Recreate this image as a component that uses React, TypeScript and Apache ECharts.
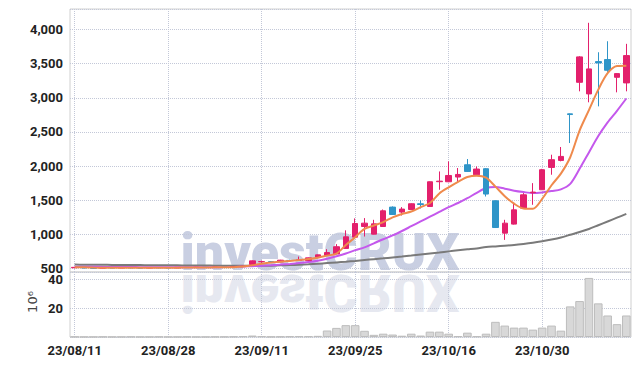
import React, { useEffect, useRef } from "react";
import * as echarts from "echarts";

const dates = [
  "23/08/11","23/08/14","23/08/16","23/08/17","23/08/18","23/08/21","23/08/22","23/08/23","23/08/24","23/08/25",
  "23/08/28","23/08/29","23/08/30","23/08/31","23/09/01","23/09/04","23/09/05","23/09/06","23/09/07","23/09/08",
  "23/09/11","23/09/12","23/09/13","23/09/14","23/09/15","23/09/18","23/09/19","23/09/20","23/09/21","23/09/22",
  "23/09/25","23/09/26","23/09/27","23/10/04","23/10/05","23/10/06","23/10/10","23/10/11","23/10/12","23/10/13",
  "23/10/16","23/10/17","23/10/18","23/10/19","23/10/20","23/10/23","23/10/24","23/10/25","23/10/26","23/10/27",
  "23/10/30","23/10/31","23/11/01","23/11/02","23/11/03","23/11/06","23/11/07","23/11/08","23/11/09","23/11/10",
];

const openP = [512,518,508,505,512,509,514,510,508,515,512,510,518,515,520,516,522,520,528,560,600,600,598,620,618,617,661,690,715,795,960,1116,1004,1116,1400,1327,1365,1449,1409,1772,1771,1840,2020,1874,1962,1492,1019,1151,1385,1610,1654,1981,2083,2765,3227,3057,3530,3560,3300,3218];
const closeP = [518,508,505,512,509,514,510,508,515,512,510,518,515,520,516,522,520,528,535,613,603,596,623,618,628,657,701,735,820,965,1160,1165,1155,1346,1292,1371,1449,1438,1771,1780,1863,1878,1922,1957,1591,1101,1165,1360,1580,1620,1947,2094,2142,2755,3599,3423,3510,3403,3354,3618];
const lowP = [508,504,500,502,505,506,506,503,505,508,506,507,510,512,512,513,515,517,522,555,580,588,595,608,612,612,655,685,710,790,955,969,1000,1110,1285,1277,1360,1380,1405,1654,1765,1767,1915,1870,1555,1095,920,1145,1380,1434,1650,1874,2070,2338,3095,2934,2875,3380,3080,3095];
const highP = [522,520,512,515,516,518,517,514,518,520,516,522,522,525,524,527,528,532,540,620,617,610,628,630,676,662,705,784,858,1060,1235,1239,1214,1365,1410,1400,1455,1497,1775,1922,2069,1972,2104,1995,1970,1500,1214,1459,1605,1751,1960,2167,2280,2770,3610,4098,3667,3828,3360,3790];

const volumeM = [0.2,0.1,0.1,0.2,0.1,0.1,0.2,0.1,0.1,0.2,0.1,0.1,0.2,0.1,0.1,0.2,0.2,0.3,0.5,1.0,0.5,0.2,0.3,0.4,0.5,0.5,0.8,4.5,6.3,8.2,8.2,4.3,1.5,2.3,1.7,0.9,2.3,1.0,3.7,3.7,2.3,0.6,3.0,0.5,2.3,10.5,7.9,6.5,6.5,5.1,6.5,7.9,4.4,21.2,24.9,40.9,23.3,14.9,8.9,14.9];

const maShort = [520,518,515,513,512,512,512,512,512,513,513,514,515,516,517,518,519,521,530,548,572,590,600,612,625,640,660,690,720,845,960,1080,1130,1180,1250,1300,1335,1400,1460,1600,1690,1770,1840,1860,1830,1700,1560,1450,1380,1375,1520,1720,1890,2130,2520,2820,3120,3360,3465,3470];
const maMid = [528,527,526,525,524,523,522,521,520,520,519,519,518,518,519,520,522,525,530,535,540,548,558,568,580,595,615,645,680,720,770,810,870,930,985,1050,1120,1190,1260,1330,1400,1460,1530,1610,1680,1695,1670,1640,1620,1605,1615,1635,1660,1740,1960,2200,2440,2640,2810,2990];
const maLong = [558,557,556,555,554,553,552,551,550,549,548,547,546,545,544,543,542,541,540,540,541,543,547,551,556,562,570,580,590,600,612,625,638,650,663,676,690,705,720,735,752,768,782,795,815,825,835,845,860,878,900,925,955,995,1035,1080,1135,1190,1245,1300];

const priceMin = 450;
const priceMax = 4300;
const volMax = 45;

const UP = "#e3206c";
const DOWN = "#2f95c8";
const LABEL_FONT = "Roboto, 'Noto Sans', sans-serif";
const GRID_LINE = { type: "dotted" as const, color: "#c3c8d8", width: 1 };

export default function App() {
  const ref = useRef<HTMLDivElement>(null);
  useEffect(() => {
    if (!ref.current) return;
    const chart = echarts.init(ref.current, undefined, { renderer: "svg" });
    const candles = dates.map((_, i) => [openP[i], closeP[i], lowP[i], highP[i]]);
    const labelStyle = {
      fontFamily: LABEL_FONT,
      fontSize: 13,
      fontWeight: "bold" as const,
      color: "#222",
    };
    chart.setOption({
      animation: false,
      backgroundColor: "#fff",
      grid: [
        { left: 70, right: 12, top: 9, height: 263, show: true, borderColor: "#d0d0d0", borderWidth: 1 },
        { left: 70, right: 12, top: 272, height: 65, show: true, borderColor: "#d0d0d0", borderWidth: 1 },
      ],
      graphic: [
        {
          type: "text",
          z: -10,
          x: 320,
          y: 252,
          style: {
            text: "investCRUX",
            fontFamily: "Roboto, 'DejaVu Sans', sans-serif",
            fontWeight: 900,
            fontSize: 52,
            fill: "#c9cfe2",
            align: "center",
            verticalAlign: "middle",
          },
        },
        {
          type: "text",
          z: -10,
          x: 320,
          y: 292,
          scaleY: -1,
          style: {
            text: "investCRUX",
            fontFamily: "Roboto, 'DejaVu Sans', sans-serif",
            fontWeight: 900,
            fontSize: 52,
            fill: "#e6e8f0",
            align: "center",
            verticalAlign: "middle",
          },
        },
        {
          type: "text",
          x: 32,
          y: 302,
          rotation: Math.PI / 2,
          style: {
            text: "10⁶",
            fontFamily: "'DejaVu Sans', sans-serif",
            fontSize: 13,
            fill: "#444",
            align: "center",
            verticalAlign: "middle",
          },
        },
      ],
      xAxis: [
        {
          type: "category",
          gridIndex: 0,
          data: dates,
          boundaryGap: true,
          axisLine: { show: false },
          axisTick: { show: false },
          axisLabel: { show: false, interval: 9 },
          splitLine: { show: true, interval: 9, alignWithLabel: true, lineStyle: GRID_LINE },
        },
        {
          type: "category",
          gridIndex: 1,
          data: dates,
          boundaryGap: true,
          axisLine: { show: false },
          axisTick: { show: false },
          axisLabel: { show: true, interval: 9, margin: 7, ...labelStyle },
          splitLine: { show: true, interval: 9, alignWithLabel: true, lineStyle: GRID_LINE },
        },
      ],
      yAxis: [
        {
          type: "value",
          gridIndex: 0,
          min: priceMin,
          max: priceMax,
          splitNumber: 8,
          axisLine: { show: false },
          axisTick: { show: false },
          axisLabel: {
            ...labelStyle,
            margin: 7,
            showMinLabel: false,
            showMaxLabel: false,
            formatter: (v: number) => v.toLocaleString("en-US"),
          },
          splitLine: { show: true, lineStyle: GRID_LINE },
        },
        {
          type: "value",
          gridIndex: 1,
          min: 0,
          max: volMax,
          interval: 20,
          axisLine: { show: false },
          axisTick: { show: false },
          axisLabel: { ...labelStyle, margin: 7, showMinLabel: false, showMaxLabel: false },
          splitLine: { show: true, lineStyle: GRID_LINE },
        },
      ],
      series: [
        {
          type: "candlestick",
          name: "price",
          xAxisIndex: 0,
          yAxisIndex: 0,
          data: candles,
          barWidth: 6,
          itemStyle: { color: UP, color0: DOWN, borderColor: UP, borderColor0: DOWN, borderWidth: 1 },
          z: 5,
        },
        {
          type: "line",
          name: "MA long",
          xAxisIndex: 0,
          yAxisIndex: 0,
          data: maLong,
          showSymbol: false,
          smooth: 0.3,
          lineStyle: { color: "#7a7a7a", width: 2 },
          z: 4,
        },
        {
          type: "line",
          name: "MA mid",
          xAxisIndex: 0,
          yAxisIndex: 0,
          data: maMid,
          showSymbol: false,
          smooth: 0.3,
          lineStyle: { color: "#c458ec", width: 2 },
          z: 4,
        },
        {
          type: "line",
          name: "MA short",
          xAxisIndex: 0,
          yAxisIndex: 0,
          data: maShort,
          showSymbol: false,
          smooth: 0.3,
          lineStyle: { color: "#ef8a4c", width: 2 },
          z: 6,
        },
        {
          type: "bar",
          name: "volume",
          xAxisIndex: 1,
          yAxisIndex: 1,
          data: volumeM,
          barCategoryGap: "8%",
          itemStyle: { color: "#d8d8d8", borderColor: "#bdbdbd", borderWidth: 1 },
        },
      ],
    });
    return () => chart.dispose();
  }, []);
  return (
    <div
      ref={ref}
      style={{ position: "fixed", left: 0, top: 0, width: 643, height: 366 }}
    />
  );
}
